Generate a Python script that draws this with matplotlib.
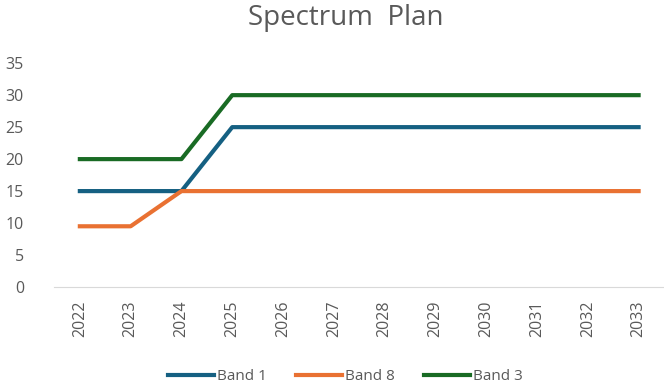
import matplotlib.pyplot as plt

years = ['2022', '2023', '2024', '2025', '2026', '2027', '2028',
         '2029', '2030', '2031', '2032', '2033']
band1 = [15, 15, 15, 25, 25, 25, 25, 25, 25, 25, 25, 25]
band8 = [9.5, 9.5, 15, 15, 15, 15, 15, 15, 15, 15, 15, 15]
band3 = [20, 20, 20, 30, 30, 30, 30, 30, 30, 30, 30, 30]

plt.rcParams['font.family'] = ['Open Sans', 'DejaVu Sans']
grey = '#595959'

fig = plt.figure(figsize=(6.64, 3.90), dpi=100)
ax = fig.add_axes([0.082, 0.264, 0.918, 0.574])

x = range(len(years))
ax.plot(x, band1, color='#156082', lw=3, label='Band 1')
ax.plot(x, band8, color='#E97132', lw=3, label='Band 8')
ax.plot(x, band3, color='#196B24', lw=3, label='Band 3')

ax.set_xlim(-0.5, len(years) - 0.5)
ax.set_ylim(0, 35)
ax.set_yticks(range(0, 36, 5))
ax.set_xticks(list(x))
ax.set_xticklabels(years, rotation=90)
ax.tick_params(axis='both', length=0, colors=grey, labelsize=11.5)
ax.tick_params(axis='y', pad=22)
ax.tick_params(axis='x', pad=10)
for s in ['top', 'right', 'left']:
    ax.spines[s].set_visible(False)
ax.spines['bottom'].set_color('#d9d9d9')

fig.suptitle('Spectrum  Plan', x=0.52, y=0.99, fontsize=20, color=grey)
fig.legend(loc='lower center', bbox_to_anchor=(0.52, -0.02), ncol=3,
           frameon=False, fontsize=11, labelcolor=grey,
           handlelength=3.0, handletextpad=0.2, columnspacing=1.9)

fig.savefig('out.png', dpi=100)
